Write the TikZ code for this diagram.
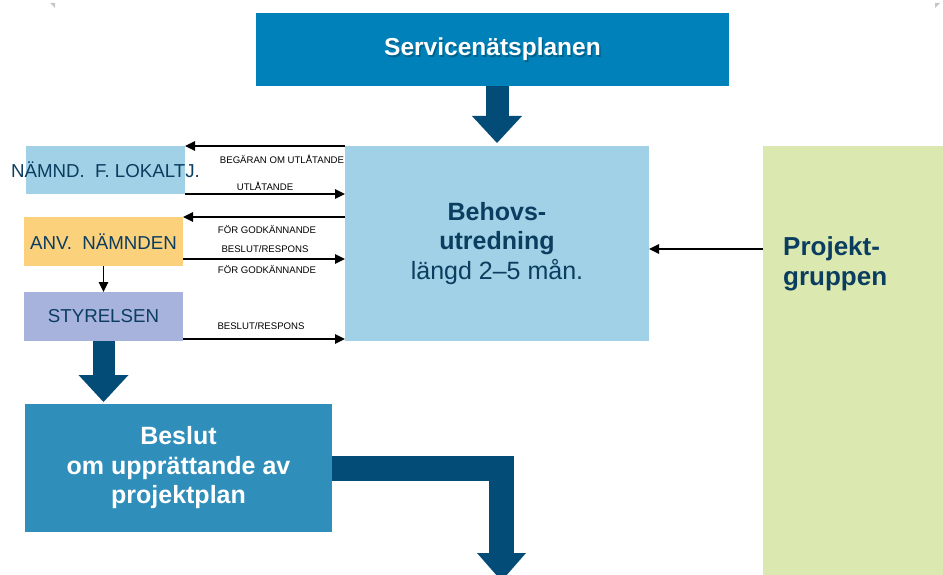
\documentclass[tikz,border=0pt]{standalone}
\usepackage{fontspec}
\setmainfont{Liberation Sans}
\usetikzlibrary{arrows.meta,calc}

\definecolor{servblue}{HTML}{0181B9}
\definecolor{arrowblue}{HTML}{034C77}
\definecolor{lightblue}{HTML}{A0D1E6}
\definecolor{projgreen}{HTML}{DBE9B0}
\definecolor{anvyellow}{HTML}{FBD17B}
\definecolor{styrlilac}{HTML}{A7B2DD}
\definecolor{beslutblue}{HTML}{308EBA}
\definecolor{inkblue}{HTML}{0B3D60}

\begin{document}
\begin{tikzpicture}[x=1pt,y=-1pt,
  box/.style={rectangle, inner sep=0pt, outer sep=0pt, anchor=north west, draw=none},
  smalllabel/.style={font=\fontsize{9.6}{11}\selectfont, text=black, inner sep=0pt},
  unitlabel/.style={font=\fontsize{18.7}{22}\selectfont, text=inkblue, inner sep=0pt},
  flow/.style={draw=black, line width=1.4pt, -{Triangle[length=10pt,width=9.5pt]}},
  bigarrow/.style={draw=arrowblue, line width=23pt, line join=miter,
    -{Triangle[length=27pt,width=50pt,line width=0pt]}}]

\useasboundingbox (0,0) rectangle (943,575);
\clip (0,0) rectangle (943,575);

% small corner marks
\fill[gray!45] (50,3) -- (55,3) -- (55,8) -- cycle;
\fill[gray!45] (935,3) -- (940,3) -- (935,8) -- cycle;

% boxes
\node[box, fill=servblue, minimum width=473pt, minimum height=73pt] (serv) at (256,13) {};
\node[box, fill=lightblue, minimum width=304pt, minimum height=195pt] (behov) at (345,146) {};
\node[box, fill=projgreen, minimum width=180pt, minimum height=440pt] (proj) at (763,146) {};
\node[box, fill=lightblue, minimum width=159pt, minimum height=48pt] (nam) at (26,146) {};
\node[box, fill=anvyellow, minimum width=159pt, minimum height=49pt] (anv) at (24,217) {};
\node[box, fill=styrlilac, minimum width=159pt, minimum height=49pt] (styr) at (24,292) {};
\node[box, fill=beslutblue, minimum width=307pt, minimum height=128pt] (beslut) at (25,404) {};

% box texts
\node[font=\fontsize{24.5}{29}\bfseries, text=black, opacity=0.25] (servshadow)
  at ($(serv.center)+(1.5,1.5)$) {Servicenätsplanen};
\node[font=\fontsize{24.5}{29}\bfseries, text=white] (servtxt) at (serv.center) {Servicenätsplanen};
\node[font=\fontsize{25}{29.5}\selectfont, text=inkblue, align=center] (behovtxt) at (behov.center)
  {\textbf{Behovs-}\\\textbf{utredning}\\längd 2–5 mån.};
\node[font=\fontsize{26}{30.5}\bfseries, text=inkblue, align=left, anchor=west, inner sep=0pt] (projtxt)
  at (783,264) {Projekt-\\gruppen};
\node[unitlabel] (namtxt) at (nam.center) {NÄMND.\ \ F. LOKALTJ.};
\node[unitlabel] (anvtxt) at (anv.center) {ANV.\ \ NÄMNDEN};
\node[unitlabel] (styrtxt) at (styr.center) {STYRELSEN};
\node[font=\fontsize{25}{29.5}\bfseries, text=white, align=center] (beslutxt) at (beslut.center)
  {Beslut\\om upprättande av\\projektplan};

% exchanges with Behovsutredning
\draw[flow] (behov.north west) -- (nam.north east);
\draw[flow] (nam.south east) -- (nam.south east -| behov.west);
\draw[flow] (anv.north east -| behov.west) -- (anv.north east);
\draw[flow] ($(anv.south east)+(0,-7)$) -- ($(anv.south east -| behov.west)+(0,-7)$);
\draw[flow] ($(styr.south east)+(0,-2)$) -- ($(styr.south east -| behov.west)+(0,-2)$);
\draw[flow] ($(behov.east -| proj.west)+(0,5.5)$) -- ($(behov.east)+(0,5.5)$);
\draw[flow] (anv.south) -- (styr.north);

\node[smalllabel] (l1) at (282,159) {BEGÄRAN OM UTLÅTANDE};
\node[smalllabel] (l2) at (265,186) {UTLÅTANDE};
\node[smalllabel] (l3) at (267,230) {FÖR GODKÄNNANDE};
\node[smalllabel] (l4) at (265,249) {BESLUT/RESPONS};
\node[smalllabel] (l5) at (267,270) {FÖR GODKÄNNANDE};
\node[smalllabel] (l6) at (261,326) {BESLUT/RESPONS};

% main flow arrows
\draw[bigarrow] (behov.north |- serv.south) -- ($(behov.north)+(0,-3)$);
\draw[bigarrow, line width=22pt] (styr.south) -- ($(styr.south |- beslut.north)+(0,-2)$);
\coordinate (nextstep) at (501.5,581);
\draw[bigarrow, line width=25pt, -{Triangle[length=28pt,width=49pt,line width=0pt]}]
  (beslut.east) -| (nextstep);

\end{tikzpicture}
\end{document}
